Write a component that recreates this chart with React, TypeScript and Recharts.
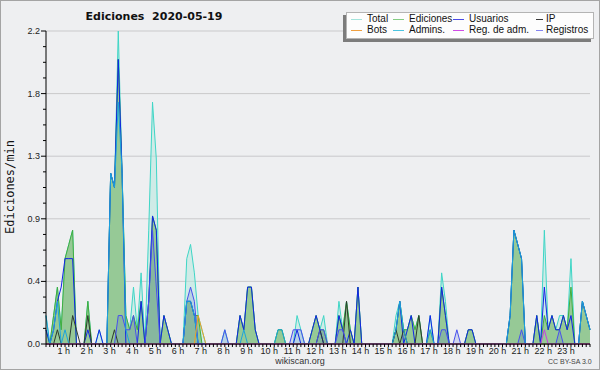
import { Area, CartesianGrid, ComposedChart, Line, XAxis, YAxis } from "recharts"

// Edits per minute, one value per 10-minute slot (144 slots, 12 per row = 2 hours)
const total = [
  0.2, 0, 0.2, 0.4, 0.1, 0.6, 0.7, 0.8, 0, 0, 0, 0.3,
  0, 0, 0.1, 0, 0, 1.2, 1.1, 2.2, 1.2, 0.2, 0.1, 0.4,
  0.1, 0.5, 0, 0.8, 1.7, 1.3, 0, 0.2, 0.1, 0, 0, 0,
  0, 0.6, 0.7, 0.5, 0.2, 0.1, 0, 0, 0, 0, 0, 0.1,
  0, 0, 0, 0.2, 0.1, 0.4, 0.4, 0.1, 0, 0, 0, 0,
  0, 0.1, 0.1, 0, 0, 0, 0.2, 0.1, 0, 0, 0.1, 0.2,
  0.1, 0.2, 0, 0, 0, 0.3, 0.1, 0.3, 0.1, 0, 0.4, 0,
  0, 0, 0, 0, 0, 0, 0, 0, 0.2, 0.3, 0.1, 0.1,
  0.2, 0.1, 0.2, 0, 0, 0.2, 0, 0, 0.5, 0.3, 0, 0,
  0, 0, 0, 0.1, 0.1, 0, 0, 0, 0, 0, 0, 0,
  0, 0, 0.2, 0.8, 0.7, 0.6, 0, 0, 0, 0.2, 0, 0.8,
  0.1, 0.2, 0.1, 0.2, 0.2, 0.1, 0.6, 0, 0, 0.3, 0.2, 0.1
]

const ediciones = [
  0.1, 0, 0.2, 0.4, 0.1, 0.6, 0.7, 0.8, 0, 0, 0, 0.3,
  0, 0, 0, 0, 0, 1.2, 1.1, 2.0, 1.2, 0.2, 0.1, 0.2,
  0.1, 0.3, 0, 0.3, 0.9, 0.8, 0, 0.2, 0.1, 0, 0, 0,
  0, 0.3, 0.3, 0.2, 0.2, 0, 0, 0, 0, 0, 0, 0,
  0, 0, 0, 0.2, 0.1, 0.4, 0.4, 0.1, 0, 0, 0, 0,
  0, 0.1, 0.1, 0, 0, 0, 0, 0, 0, 0, 0.1, 0.2,
  0.1, 0.1, 0, 0, 0, 0.2, 0.1, 0.3, 0.1, 0, 0.4, 0,
  0, 0, 0, 0, 0, 0, 0, 0, 0.1, 0.3, 0.1, 0.1,
  0.2, 0.1, 0.2, 0, 0, 0.1, 0, 0, 0.4, 0.2, 0, 0,
  0, 0, 0, 0.1, 0.1, 0, 0, 0, 0, 0, 0, 0,
  0, 0, 0.2, 0.8, 0.7, 0.6, 0, 0, 0, 0.2, 0, 0.2,
  0.1, 0.2, 0.1, 0.1, 0.2, 0.1, 0.4, 0, 0, 0.3, 0.2, 0.1
]

const usuarios = [
  0.1, 0, 0.1, 0.3, 0.4, 0.6, 0.6, 0.6, 0, 0, 0, 0.1,
  0, 0, 0.1, 0, 0, 1.2, 1.1, 2.0, 1.2, 0, 0, 0,
  0, 0.3, 0, 0.3, 0.9, 0.8, 0, 0.2, 0.1, 0, 0, 0,
  0, 0.3, 0.3, 0.2, 0, 0, 0, 0, 0, 0, 0, 0,
  0, 0, 0, 0.2, 0.1, 0.4, 0.4, 0.1, 0, 0, 0, 0,
  0, 0, 0, 0, 0, 0, 0.1, 0, 0, 0, 0.1, 0.2,
  0.1, 0, 0, 0, 0, 0.2, 0.1, 0, 0.1, 0, 0.4, 0,
  0, 0, 0, 0, 0, 0, 0, 0, 0.1, 0.3, 0, 0.1,
  0.2, 0, 0, 0, 0, 0.2, 0, 0, 0.4, 0.2, 0, 0,
  0, 0, 0, 0.1, 0.1, 0, 0, 0, 0, 0, 0, 0,
  0, 0, 0.2, 0.8, 0.7, 0.6, 0, 0, 0, 0.2, 0, 0.4,
  0.1, 0.2, 0.1, 0.1, 0.2, 0.1, 0.2, 0, 0, 0.3, 0.2, 0.1
]

const ip = [
  0, 0, 0, 0.1, 0, 0, 0, 0.2, 0.1, 0, 0, 0.2,
  0, 0, 0, 0, 0, 0, 0.1, 0, 0, 0, 0, 0,
  0, 0, 0, 0, 0, 0, 0, 0, 0, 0, 0, 0,
  0, 0, 0, 0, 0, 0, 0, 0, 0, 0, 0, 0,
  0, 0, 0, 0, 0, 0, 0, 0, 0, 0, 0, 0,
  0, 0, 0, 0, 0, 0, 0, 0, 0, 0, 0, 0,
  0.1, 0, 0, 0, 0, 0, 0, 0.3, 0, 0, 0, 0,
  0, 0, 0, 0, 0, 0, 0, 0, 0.1, 0, 0.1, 0,
  0, 0, 0.2, 0, 0, 0, 0, 0, 0, 0, 0, 0,
  0, 0, 0, 0, 0, 0, 0, 0, 0, 0, 0, 0,
  0, 0, 0, 0, 0, 0, 0, 0, 0, 0, 0, 0,
  0, 0, 0, 0, 0, 0, 0, 0, 0, 0, 0, 0
]

const bots = [
  0, 0, 0, 0, 0, 0, 0, 0, 0, 0, 0, 0,
  0, 0, 0, 0, 0, 0, 0, 0, 0, 0, 0, 0,
  0, 0, 0, 0, 0, 0, 0, 0, 0, 0, 0, 0,
  0, 0, 0, 0, 0.2, 0.1, 0, 0, 0, 0, 0, 0,
  0, 0, 0, 0, 0, 0, 0, 0, 0, 0, 0, 0,
  0, 0, 0, 0, 0, 0, 0, 0, 0, 0, 0, 0,
  0, 0, 0, 0, 0, 0, 0, 0, 0, 0, 0, 0,
  0, 0, 0, 0, 0, 0, 0, 0, 0, 0, 0, 0,
  0, 0, 0, 0, 0, 0, 0, 0, 0, 0, 0, 0,
  0, 0, 0, 0, 0, 0, 0, 0, 0, 0, 0, 0,
  0, 0, 0, 0, 0, 0, 0, 0, 0, 0, 0, 0,
  0, 0, 0, 0, 0, 0, 0, 0, 0, 0, 0, 0
]

const admins = [
  0.2, 0, 0.1, 0.3, 0, 0.1, 0, 0, 0, 0, 0, 0,
  0, 0, 0, 0, 0, 1.2, 1.1, 1.7, 1.2, 0.1, 0, 0,
  0, 0, 0, 0, 0, 0, 0, 0, 0, 0, 0, 0,
  0, 0.3, 0.3, 0.2, 0, 0, 0, 0, 0, 0, 0, 0,
  0, 0, 0, 0, 0.1, 0, 0, 0, 0, 0, 0, 0,
  0, 0.1, 0.1, 0, 0, 0, 0, 0, 0, 0, 0, 0,
  0, 0, 0, 0, 0, 0, 0, 0, 0, 0, 0, 0,
  0, 0, 0, 0, 0, 0, 0, 0, 0.1, 0.3, 0.1, 0,
  0, 0, 0, 0, 0, 0.1, 0, 0, 0, 0, 0, 0,
  0, 0, 0, 0, 0, 0, 0, 0, 0, 0, 0, 0,
  0, 0, 0.2, 0.8, 0.7, 0.6, 0, 0, 0, 0, 0, 0,
  0, 0, 0, 0, 0, 0, 0, 0, 0, 0.3, 0.2, 0.1
]

const regAdm = [
  0, 0, 0, 0, 0, 0, 0, 0, 0, 0, 0, 0,
  0, 0, 0, 0, 0, 0, 0, 0, 0, 0, 0, 0,
  0, 0, 0, 0, 0, 0, 0, 0, 0, 0, 0, 0,
  0, 0, 0, 0, 0, 0, 0, 0, 0, 0, 0, 0,
  0, 0, 0, 0, 0, 0, 0, 0, 0, 0, 0, 0,
  0, 0, 0, 0, 0, 0, 0, 0, 0, 0, 0, 0,
  0, 0, 0, 0, 0, 0, 0, 0, 0, 0, 0, 0,
  0, 0, 0, 0, 0, 0, 0, 0, 0, 0, 0, 0,
  0, 0, 0, 0, 0, 0, 0, 0, 0, 0, 0, 0,
  0, 0, 0, 0, 0, 0, 0, 0, 0, 0, 0, 0,
  0, 0, 0, 0, 0, 0, 0, 0, 0, 0, 0, 0.1,
  0, 0, 0, 0, 0, 0, 0, 0, 0, 0, 0, 0
]

const registros = [
  0, 0, 0, 0, 0, 0, 0, 0, 0, 0, 0, 0,
  0, 0, 0, 0, 0, 0, 0, 0.2, 0.2, 0.1, 0.1, 0.2,
  0, 0, 0, 0.3, 0.8, 0.4, 0, 0, 0, 0, 0, 0,
  0, 0.3, 0.4, 0.3, 0, 0, 0, 0, 0, 0, 0, 0.1,
  0, 0, 0, 0, 0, 0, 0, 0, 0, 0, 0, 0,
  0, 0, 0, 0, 0, 0.1, 0.1, 0.1, 0, 0, 0, 0,
  0.1, 0.1, 0, 0, 0, 0.1, 0.1, 0, 0, 0, 0, 0,
  0, 0, 0, 0, 0, 0, 0, 0, 0, 0, 0, 0,
  0, 0, 0, 0, 0, 0, 0, 0, 0.1, 0.1, 0, 0,
  0.1, 0, 0, 0, 0, 0, 0, 0, 0, 0, 0, 0,
  0, 0, 0, 0, 0, 0.1, 0, 0, 0, 0, 0, 0,
  0, 0, 0, 0.1, 0, 0, 0, 0, 0, 0, 0, 0
]

const HOUR_LABELS = [
  "1 h", "2 h", "3 h", "4 h", "5 h", "6 h", "7 h", "8 h", "9 h", "10 h", "11 h", "12 h",
  "13 h", "14 h", "15 h", "16 h", "17 h", "18 h", "19 h", "20 h", "21 h", "22 h", "23 h"
]
const Y_TICKS = [0, 0.44, 0.88, 1.32, 1.76, 2.2]

const LEGEND_NAMES = ["Total", "Ediciones", "Usuarios", "IP", "Bots", "Admins.", "Reg. de adm.", "Registros"]
const LEGEND_COLORS = ["#a4e4dc", "#84cc84", "#4a4ae6", "#3a3a3a", "#f0a040", "#4cc4e0", "#d04ce6", "#8484f0"]

const PLOT_LEFT = 46
const AXIS_Y = 344
const SLOTS = total.map((_, i) => i)
const Y_MINOR = Array.from({ length: 21 }, (_, i) => Math.round(i * 11) / 100)

const data = SLOTS.map((slot) => ({
  slot,
  total: total[slot],
  ediciones: ediciones[slot],
  usuarios: usuarios[slot],
  ip: ip[slot],
  bots: bots[slot],
  admins: admins[slot],
  regAdm: regAdm[slot],
  registros: registros[slot]
}))

const SANS = "'Liberation Sans', Arial, sans-serif"
const LINE_W = 1

type TickProps = {
  x?: number
  y?: number
  payload?: { value: number }
}

function HourTick({ x = 0, payload }: TickProps) {
  const slot = payload?.value ?? 0
  const hour = slot / 6
  const label = slot % 6 === 0 && hour >= 1 ? HOUR_LABELS[hour - 1] : null
  return (
    <g>
      <line x1={x} x2={x} y1={AXIS_Y} y2={AXIS_Y + 3} stroke="#000" />
      {label && (
        <text x={x - 5} y={AXIS_Y + 10} textAnchor="middle" fontSize={9} fontFamily={SANS} fill="#222">
          {label}
        </text>
      )}
    </g>
  )
}

function ValueTick({ y = 0, payload }: TickProps) {
  const v = payload?.value ?? 0
  const major = Y_TICKS.some((t) => Math.abs(t - v) < 1e-6)
  return (
    <g>
      <line x1={PLOT_LEFT - (major ? 5 : 3)} x2={PLOT_LEFT} y1={y} y2={y} stroke="#000" />
      {major && (
        <text x={PLOT_LEFT - 6} y={y + 3} textAnchor="end" fontSize={9} fontFamily={SANS} fill="#222">
          {v.toFixed(1)}
        </text>
      )}
    </g>
  )
}

const SWATCH_X = [4, 46, 106, 189]
const TEXT_X = [20, 62, 122, 199]

function ChartLegend() {
  return (
    <div
      style={{
        position: "absolute",
        left: 346,
        top: 12,
        width: 248,
        height: 27,
        boxSizing: "border-box",
        background: "#fdfdfd",
        border: "1px solid #b4b4b4",
        boxShadow: "-3px 3px 0 #7c7c7c",
        fontFamily: SANS,
        fontSize: 10,
        color: "#111"
      }}
    >
      {LEGEND_NAMES.map((name, k) => {
        const col = k % 4
        const top = k < 4 ? 6 : 16.5
        return (
          <div key={name}>
            <div
              style={{
                position: "absolute",
                left: SWATCH_X[col],
                top,
                width: col === 3 ? 7 : 11,
                height: 1,
                background: LEGEND_COLORS[k]
              }}
            />
            <div style={{ position: "absolute", left: TEXT_X[col], top: top - 6, lineHeight: "11px", whiteSpace: "nowrap" }}>
              {name}
            </div>
          </div>
        )
      })}
    </div>
  )
}

export default function App() {
  return (
    <div
      style={{
        position: "absolute",
        left: 0,
        top: 0,
        width: 600,
        height: 370,
        background: "#eeeff1",
        boxShadow: "inset 0 0 0 1px #a4a4a4",
        overflow: "hidden"
      }}
    >
      <ComposedChart width={600} height={370} data={data} margin={{ top: 31, right: 10, bottom: 6, left: 16 }}>
        <CartesianGrid vertical={false} horizontalValues={Y_TICKS} stroke="#c9c9cb" />
        <Area type="linear" dataKey="total" stroke="#3ed6c6" strokeWidth={LINE_W} fill="#b6e8de" fillOpacity={0.55} dot={false} activeDot={false} isAnimationActive={false} />
        <Area type="linear" dataKey="ediciones" stroke="#3fae3f" strokeWidth={LINE_W} fill="#96c996" fillOpacity={1} dot={false} activeDot={false} isAnimationActive={false} />
        <Area type="linear" dataKey="registros" stroke="none" fill="#4060d0" fillOpacity={0.17} dot={false} activeDot={false} isAnimationActive={false} />
        <Line type="linear" dataKey="usuarios" stroke="#1024e6" strokeWidth={LINE_W} dot={false} activeDot={false} isAnimationActive={false} />
        <Line type="linear" dataKey="ip" stroke="#2e3a2e" strokeWidth={LINE_W} dot={false} activeDot={false} isAnimationActive={false} />
        <Line type="linear" dataKey="registros" stroke="#4850ee" strokeWidth={LINE_W} dot={false} activeDot={false} isAnimationActive={false} />
        <Line type="linear" dataKey="admins" stroke="#1ca4dc" strokeWidth={LINE_W} dot={false} activeDot={false} isAnimationActive={false} />
        <Line type="linear" dataKey="bots" stroke="#eea024" strokeWidth={LINE_W} dot={false} activeDot={false} isAnimationActive={false} />
        <Line type="linear" dataKey="regAdm" stroke="#c840e0" strokeWidth={LINE_W} dot={false} activeDot={false} isAnimationActive={false} />
        <XAxis
          type="number"
          dataKey="slot"
          domain={[0, 143]}
          ticks={SLOTS}
          interval={0}
          height={20}
          tickLine={false}
          tickSize={0}
          axisLine={{ stroke: "#000" }}
          tick={<HourTick />}
        />
        <YAxis
          type="number"
          domain={[0, 2.2]}
          ticks={Y_MINOR}
          interval={0}
          width={30}
          tickLine={false}
          tickSize={0}
          axisLine={{ stroke: "#000" }}
          tick={<ValueTick />}
        />
      </ComposedChart>

      <div
        style={{
          position: "absolute",
          left: 154,
          top: 10,
          transform: "translateX(-50%)",
          fontFamily: "'DejaVu Sans', sans-serif",
          fontWeight: "bold",
          fontSize: 11,
          lineHeight: "13px",
          whiteSpace: "pre",
          color: "#111"
        }}
      >
        {"Ediciones  2020-05-19"}
      </div>
      <div
        style={{
          position: "absolute",
          left: 10,
          top: 187,
          transform: "translate(-50%, -50%) rotate(-90deg)",
          fontFamily: "'DejaVu Sans Mono', monospace",
          fontSize: 12,
          lineHeight: "14px",
          whiteSpace: "nowrap",
          color: "#111"
        }}
      >
        Ediciones/min
      </div>
      <div
        style={{
          position: "absolute",
          left: 300,
          top: 356,
          transform: "translateX(-50%)",
          fontFamily: SANS,
          fontSize: 9,
          lineHeight: "10px",
          color: "#333"
        }}
      >
        wikiscan.org
      </div>
      <div
        style={{
          position: "absolute",
          left: 548,
          top: 358,
          fontFamily: SANS,
          fontSize: 7,
          lineHeight: "8px",
          color: "#444",
          whiteSpace: "nowrap"
        }}
      >
        CC BY-SA 3.0
      </div>
      <ChartLegend />
    </div>
  )
}
